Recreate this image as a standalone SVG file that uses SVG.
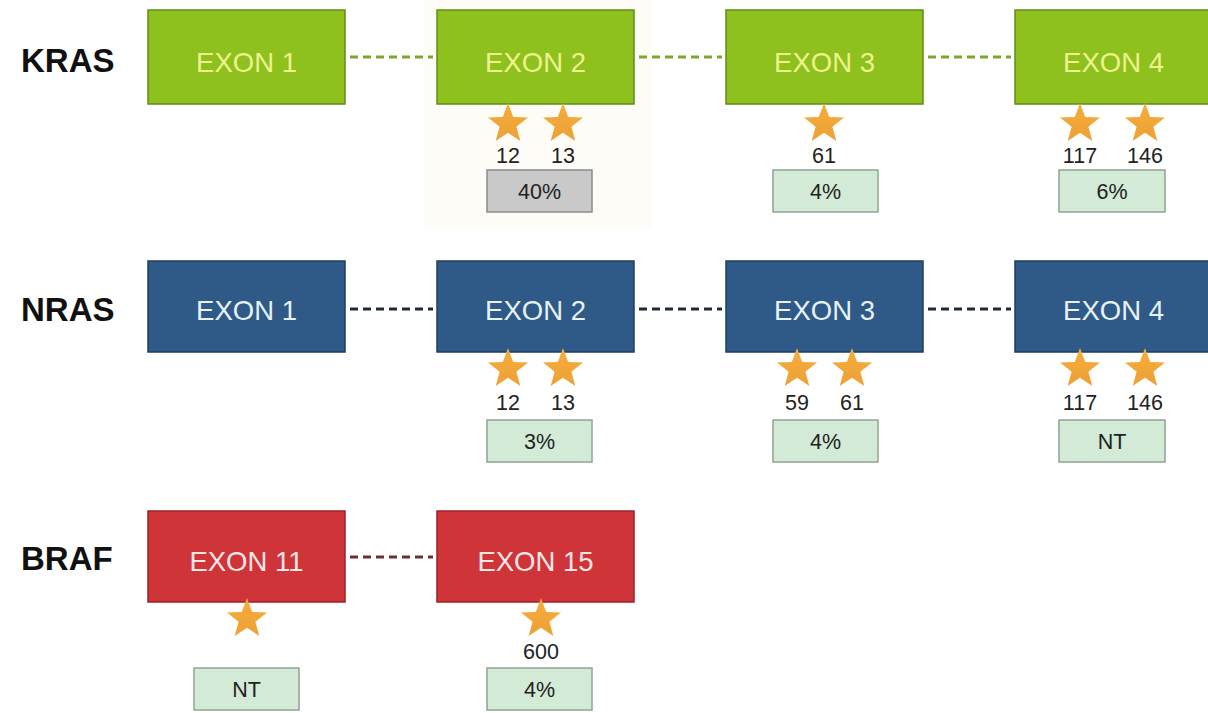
<svg xmlns="http://www.w3.org/2000/svg" width="1208" height="713" viewBox="0 0 1208 713">
<style>
.lbl{font-family:"Liberation Sans",Arial,sans-serif;font-weight:bold;font-size:33px;fill:#111}
.ex{font-family:"Liberation Sans",Arial,sans-serif;font-size:27.5px;text-anchor:middle}
.kg{fill:#8ec01e;stroke:#5f8d14;stroke-width:1.5}
.nb{fill:#2f5a87;stroke:#1f3e62;stroke-width:1.5}
.br{fill:#cf3439;stroke:#9c2227;stroke-width:1.5}
.kt{fill:#eef38c}
.nt{fill:#e6f2f6}
.rt{fill:#fae6e6}
.num{font-family:"Liberation Sans",Arial,sans-serif;font-size:21.5px;fill:#222;text-anchor:middle}
.pct{fill:#d3ead6;stroke:#8ea593;stroke-width:1.5}
.pctg{fill:#c8c9c8;stroke:#8a8a8a;stroke-width:1.5}
.pt{font-family:"Liberation Sans",Arial,sans-serif;font-size:21.5px;fill:#222;text-anchor:middle}
.dk{stroke:#7aa82a;stroke-width:3;stroke-dasharray:8 5;fill:none}
.dn{stroke:#1e2a36;stroke-width:3;stroke-dasharray:8 5;fill:none}
.dr{stroke:#6a3030;stroke-width:3;stroke-dasharray:8 5;fill:none}
</style>
<defs>
<linearGradient id="sg" x1="0" y1="0" x2="0" y2="1">
<stop offset="0" stop-color="#f4ad3c"/>
<stop offset="1" stop-color="#eea035"/>
</linearGradient>
<path id="star" d="M0,-21 L5.2,-7.1 L20,-6.5 L8.4,2.7 L12.3,17 L0,8.8 L-12.3,17 L-8.4,2.7 L-20,-6.5 L-5.2,-7.1 Z" fill="url(#sg)"/>
</defs>
<rect width="1208" height="713" fill="#ffffff"/>
<rect x="424" y="0" width="228" height="228" fill="#fefcf6"/>

<g id="connectors">
<line class="dk" x1="350" y1="57" x2="433" y2="57"/>
<line class="dk" x1="639" y1="57" x2="722" y2="57"/>
<line class="dk" x1="928" y1="57" x2="1011" y2="57"/>
<line class="dn" x1="350" y1="309" x2="433" y2="309"/>
<line class="dn" x1="639" y1="309" x2="722" y2="309"/>
<line class="dn" x1="928" y1="309" x2="1011" y2="309"/>
<line class="dr" x1="350" y1="557" x2="433" y2="557"/>
</g>

<g id="kras">
<text class="lbl" x="21" y="72">KRAS</text>
<g id="kras-exon1"><rect class="kg" x="148" y="10" width="197" height="94"/><text class="ex kt" x="246.5" y="72">EXON 1</text></g>
<g id="kras-exon2"><rect class="kg" x="437" y="10" width="197" height="94"/><text class="ex kt" x="535.5" y="72">EXON 2</text>
<use href="#star" x="508" y="124"/><use href="#star" x="563" y="124"/>
<text class="num" x="508" y="163">12</text><text class="num" x="563" y="163">13</text>
<rect class="pctg" x="487" y="170" width="105" height="42"/><text class="pt" x="539.5" y="199">40%</text></g>
<g id="kras-exon3"><rect class="kg" x="726" y="10" width="197" height="94"/><text class="ex kt" x="824.5" y="72">EXON 3</text>
<use href="#star" x="824" y="124"/>
<text class="num" x="824" y="163">61</text>
<rect class="pct" x="773" y="170" width="105" height="42"/><text class="pt" x="825.5" y="199">4%</text></g>
<g id="kras-exon4"><rect class="kg" x="1015" y="10" width="197" height="94"/><text class="ex kt" x="1113.5" y="72">EXON 4</text>
<use href="#star" x="1080" y="124"/><use href="#star" x="1145" y="124"/>
<text class="num" x="1080" y="163">117</text><text class="num" x="1145" y="163">146</text>
<rect class="pct" x="1059" y="170" width="106" height="42"/><text class="pt" x="1112" y="199">6%</text></g>
</g>

<g id="nras">
<text class="lbl" x="21" y="321">NRAS</text>
<g id="nras-exon1"><rect class="nb" x="148" y="261" width="197" height="91"/><text class="ex nt" x="246.5" y="320">EXON 1</text></g>
<g id="nras-exon2"><rect class="nb" x="437" y="261" width="197" height="91"/><text class="ex nt" x="535.5" y="320">EXON 2</text>
<use href="#star" x="508" y="369"/><use href="#star" x="563" y="369"/>
<text class="num" x="508" y="410">12</text><text class="num" x="563" y="410">13</text>
<rect class="pct" x="487" y="420" width="105" height="42"/><text class="pt" x="539.5" y="449">3%</text></g>
<g id="nras-exon3"><rect class="nb" x="726" y="261" width="197" height="91"/><text class="ex nt" x="824.5" y="320">EXON 3</text>
<use href="#star" x="797" y="369"/><use href="#star" x="852" y="369"/>
<text class="num" x="797" y="410">59</text><text class="num" x="852" y="410">61</text>
<rect class="pct" x="773" y="420" width="105" height="42"/><text class="pt" x="825.5" y="449">4%</text></g>
<g id="nras-exon4"><rect class="nb" x="1015" y="261" width="197" height="91"/><text class="ex nt" x="1113.5" y="320">EXON 4</text>
<use href="#star" x="1080" y="369"/><use href="#star" x="1145" y="369"/>
<text class="num" x="1080" y="410">117</text><text class="num" x="1145" y="410">146</text>
<rect class="pct" x="1059" y="420" width="106" height="42"/><text class="pt" x="1112" y="449">NT</text></g>
</g>

<g id="braf">
<text class="lbl" x="21" y="570">BRAF</text>
<g id="braf-exon11"><rect class="br" x="148" y="511" width="197" height="91"/><text class="ex rt" x="246.5" y="571">EXON 11</text>
<use href="#star" x="247" y="619"/>
<rect class="pct" x="194" y="668" width="105" height="42"/><text class="pt" x="246.5" y="697">NT</text></g>
<g id="braf-exon15"><rect class="br" x="437" y="511" width="197" height="91"/><text class="ex rt" x="535.5" y="571">EXON 15</text>
<use href="#star" x="541" y="619"/>
<text class="num" x="541" y="659">600</text>
<rect class="pct" x="487" y="668" width="105" height="42"/><text class="pt" x="539.5" y="697">4%</text></g>
</g>
</svg>
